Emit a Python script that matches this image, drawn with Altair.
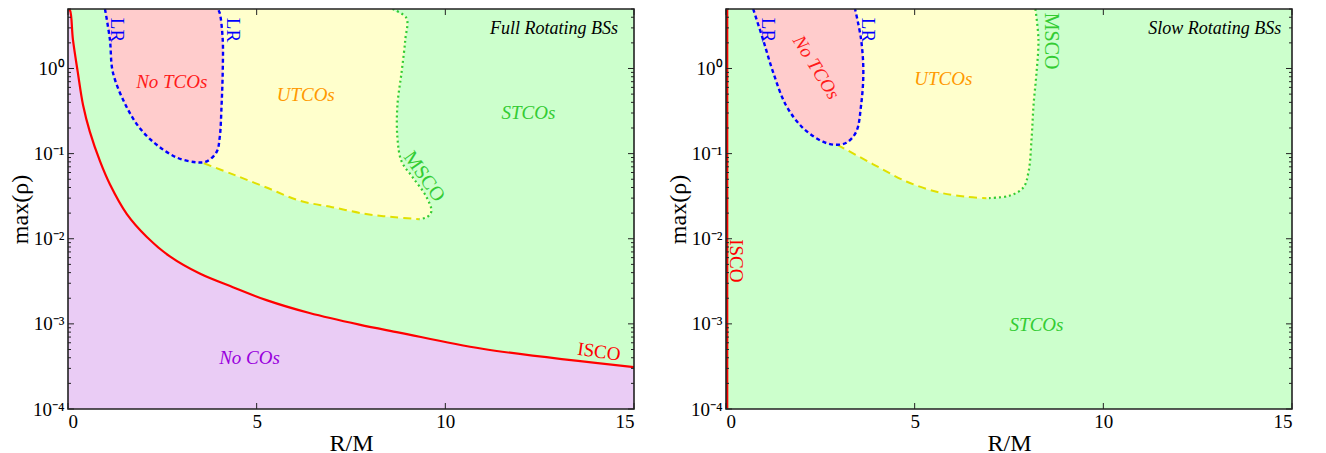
import altair as alt
import pandas as pd

# ---------------- data: left panel (Full Rotating BSs) ----------------
isco_l_x = [0.0, 0.05, 0.13, 0.26, 0.40, 0.58, 0.85, 1.11, 1.56, 2.09, 2.70, 3.49, 4.37, 5.26, 6.40, 7.72, 8.78,
            10.98, 15.0]
isco_l_y = [5.0, 4.85, 2.2, 0.9, 0.37, 0.18, 0.081, 0.0437, 0.0195, 0.0105, 0.0062, 0.0039, 0.0027, 0.0019,
            0.00134, 0.00098, 0.00079, 0.00051, 0.00031]
lr_l_x = [0.98, 1.11, 1.19, 1.53, 1.90, 2.35, 2.88, 3.41, 3.68, 3.94, 4.02, 4.07, 4.10, 4.10, 4.02, 3.97]
lr_l_y = [5.0, 2.2, 0.9, 0.37, 0.2, 0.127, 0.09, 0.079, 0.081, 0.105, 0.154, 0.37, 0.9, 2.2, 4.5, 5.0]
ut_l_x = [3.6, 4.37, 5.26, 6.14, 7.0, 7.9, 8.6, 9.31]
ut_l_y = [0.077, 0.057, 0.040, 0.028, 0.0235, 0.0195, 0.018, 0.017]
ms_l_x = [8.60, 8.97, 8.94, 8.84, 8.73, 8.73, 8.84, 9.13, 9.50, 9.63, 9.52, 9.31]
ms_l_y = [5.0, 3.9, 2.2, 0.9, 0.37, 0.154, 0.081, 0.053, 0.031, 0.021, 0.018, 0.017]

# ---------------- data: right panel (Slow Rotating BSs) ----------------
isco_r_x = [0.03, 0.03]
isco_r_y = [1e-4, 5.0]
lr_r_x = [0.72, 0.98, 1.25, 1.59, 2.04, 2.57, 2.92, 3.19, 3.45, 3.58, 3.64, 3.58, 3.42]
lr_r_y = [5.0, 2.2, 0.9, 0.37, 0.2, 0.138, 0.127, 0.134, 0.18, 0.37, 0.9, 2.2, 5.0]
ut_r_x = [2.95, 3.90, 4.78, 5.65, 6.4, 6.9]
ut_r_y = [0.127, 0.075, 0.047, 0.035, 0.031, 0.030]
ms_r_x = [8.2, 8.28, 8.23, 8.15, 8.10, 8.02, 7.88, 7.51, 6.9]
ms_r_y = [5.0, 2.2, 0.9, 0.37, 0.154, 0.062, 0.04, 0.032, 0.030]

CAP = 20.0  # closing value above the plotted range (clipped)

# ---------------- labels ----------------
it_l_text = ["No TCOs", "UTCOs", "STCOs", "No COs", "Full Rotating BSs"]
it_l_x = [2.75, 6.3, 12.2, 4.81, 12.88]
it_l_y = [0.69, 0.49, 0.30, 4.0e-4, 2.92]
it_l_col = ["#ff1a1a", "#ff9900", "#33cc33", "#9900dd", "#000000"]
it_l_ang = [0, 0, 0, 0, 0]
it_l_size = [19, 19, 19, 19, 18]

rm_l_text = ["LR", "LR", "MSCO", "ISCO"]
rm_l_x = [1.30, 4.37, 9.44, 14.07]
rm_l_y = [2.84, 2.84, 0.054, 4.7e-4]
rm_l_col = ["#0000ff", "#0000ff", "#33cc33", "#ff0000"]
rm_l_ang = [90, 90, 55, 8]
rm_l_size = [19, 19, 20, 19]

it_r_text = ["No TCOs", "UTCOs", "STCOs", "Slow Rotating BSs"]
it_r_x = [2.39, 5.76, 8.23, 12.95]
it_r_y = [1.03, 0.76, 9.8e-4, 2.92]
it_r_col = ["#ff1a1a", "#ff9900", "#33cc33", "#000000"]
it_r_ang = [58, 0, 0, 0]
it_r_size = [19, 19, 19, 18]

rm_r_text = ["LR", "LR", "MSCO", "ISCO"]
rm_r_x = [1.11, 3.77, 8.6, 0.27]
rm_r_y = [2.84, 2.84, 2.1, 0.0055]
rm_r_col = ["#0000ff", "#0000ff", "#33cc33", "#ff0000"]
rm_r_ang = [90, 90, 90, 90]
rm_r_size = [19, 19, 20, 19]

y_major = [1e-4, 1e-3, 1e-2, 1e-1, 1.0]
y_minor = [m * d for d in [1e-4, 1e-3, 1e-2, 1e-1] for m in range(2, 10)] + [2.0, 3.0, 4.0, 5.0]
x_major = [0, 5, 10, 15]

W, H = 566, 400
FONT = "Liberation Serif"
GREEN_BG = "#ccffcc"
PURPLE = "#eaccf5"
PINK = "#ffcccc"
YELLOW = "#ffffcc"

xscale = alt.Scale(domain=[0, 15], nice=False, zero=False)
yscale = alt.Scale(type="log", domain=[1e-4, 5], nice=False)

label_expr = ("datum.value >= 0.5 ? '10⁰' : datum.value >= 0.05 ? '10⁻¹' : "
              "datum.value >= 0.005 ? '10⁻²' : datum.value >= 0.0005 ? '10⁻³' : '10⁻⁴'")


def X():
    return alt.X("x:Q", scale=xscale,
                 axis=alt.Axis(values=x_major, title="R/M", format="d", labelPadding=3, titlePadding=0))


def Y():
    return alt.Y("y:Q", scale=yscale,
                 axis=alt.Axis(values=y_major, labelExpr=label_expr, title="max(ρ)", labelPadding=4,
                               titlePadding=0))


def df(xs, ys):
    return pd.DataFrame({"x": xs, "y": ys, "i": list(range(len(xs)))})


def polygon(xs, ys, color):
    return alt.Chart(df(xs, ys)).mark_line(
        fill=color, stroke=color, strokeWidth=0.8, interpolate="catmull-rom", clip=True
    ).encode(x=X(), y=Y(), order=alt.Order("i:Q"))


def curve(xs, ys, color, dash=None, width=2.2):
    kw = dict(color=color, strokeWidth=width, interpolate="catmull-rom", clip=True)
    if dash:
        kw["strokeDash"] = dash
    return alt.Chart(df(xs, ys)).mark_line(**kw).encode(x=X(), y=Y(), order=alt.Order("i:Q"))


def texts(t, xs, ys, cols, angs, sizes, style):
    d = pd.DataFrame({"x": xs, "y": ys, "t": t, "c": cols, "a": angs, "s": sizes})
    return alt.Chart(d).mark_text(font=FONT, fontStyle=style, baseline="middle", align="center").encode(
        x=X(), y=Y(), text="t:N",
        color=alt.Color("c:N", scale=None),
        angle=alt.Angle("a:Q", scale=None),
        size=alt.Size("s:Q", scale=None),
    )


def ticks():
    dmaj = pd.DataFrame({"y": y_major})
    dmin = pd.DataFrame({"y": y_minor})
    dx = pd.DataFrame({"x": x_major})
    c = "#222222"
    return [
        alt.Chart(dmaj).mark_rule(color=c, strokeWidth=1).encode(y=Y(), x=alt.value(0), x2=alt.value(6)),
        alt.Chart(dmaj).mark_rule(color=c, strokeWidth=1).encode(y=Y(), x=alt.value(W), x2=alt.value(W - 6)),
        alt.Chart(dmin).mark_rule(color=c, strokeWidth=1).encode(y=Y(), x=alt.value(0), x2=alt.value(3)),
        alt.Chart(dmin).mark_rule(color=c, strokeWidth=1).encode(y=Y(), x=alt.value(W), x2=alt.value(W - 3)),
        alt.Chart(dx).mark_rule(color=c, strokeWidth=1).encode(x=X(), y=alt.value(H), y2=alt.value(H - 6)),
        alt.Chart(dx).mark_rule(color=c, strokeWidth=1).encode(x=X(), y=alt.value(0), y2=alt.value(6)),
    ]


def frame():
    return alt.Chart(pd.DataFrame({"k": [0]})).mark_rect(
        fillOpacity=0, stroke="#222222", strokeWidth=1.6
    ).encode(x=alt.value(0), x2=alt.value(W), y=alt.value(0), y2=alt.value(H))


# ---------------- left panel ----------------
purple_area = alt.Chart(df(isco_l_x, isco_l_y)).mark_area(
    color=PURPLE, interpolate="catmull-rom", clip=True
).encode(x=X(), y=Y(), y2=alt.datum(1e-4))

yl_x = lr_l_x[8:] + [lr_l_x[-1], ms_l_x[0]] + ms_l_x + ut_l_x[::-1][1:]
yl_y = lr_l_y[8:] + [CAP, CAP] + ms_l_y + ut_l_y[::-1][1:]

left = alt.layer(
    purple_area,
    polygon(yl_x, yl_y, YELLOW),
    polygon(lr_l_x, lr_l_y, PINK),
    curve(ut_l_x, ut_l_y, "#e0e000", dash=[8, 5], width=2),
    curve(ms_l_x, ms_l_y, "#33cc33", dash=[2, 3], width=2.2),
    curve(lr_l_x, lr_l_y, "#0000ff", dash=[4, 3], width=2.4),
    curve(isco_l_x, isco_l_y, "#ff0000", width=2.2),
    texts(it_l_text, it_l_x, it_l_y, it_l_col, it_l_ang, it_l_size, "italic"),
    texts(rm_l_text, rm_l_x, rm_l_y, rm_l_col, rm_l_ang, rm_l_size, "normal"),
    *ticks(),
    frame(),
).properties(width=W, height=H)

# ---------------- right panel ----------------
yr_x = lr_r_x[6:] + [lr_r_x[-1], ms_r_x[0]] + ms_r_x + ut_r_x[::-1][1:]
yr_y = lr_r_y[6:] + [CAP, CAP] + ms_r_y + ut_r_y[::-1][1:]

right = alt.layer(
    polygon(yr_x, yr_y, YELLOW),
    polygon(lr_r_x, lr_r_y, PINK),
    curve(ut_r_x, ut_r_y, "#e0e000", dash=[8, 5], width=2),
    curve(ms_r_x, ms_r_y, "#33cc33", dash=[2, 3], width=2.2),
    curve(lr_r_x, lr_r_y, "#0000ff", dash=[4, 3], width=2.4),
    curve(isco_r_x, isco_r_y, "#ff0000", width=2.4),
    texts(it_r_text, it_r_x, it_r_y, it_r_col, it_r_ang, it_r_size, "italic"),
    texts(rm_r_text, rm_r_x, rm_r_y, rm_r_col, rm_r_ang, rm_r_size, "normal"),
    *ticks(),
    frame(),
).properties(width=W, height=H)

chart = alt.hconcat(left, right, spacing=31).properties(
    padding={"left": 0, "top": 0, "right": 0, "bottom": 0}
).configure_view(
    fill=GREEN_BG, stroke=None
).configure_axis(
    labelFont=FONT, labelFontSize=19, labelColor="#000000",
    titleFont=FONT, titleFontSize=24, titleFontWeight="normal", titleColor="#000000",
    domain=False, ticks=False, grid=False,
)

chart.save("out.html", embed_options={"renderer": "svg", "actions": False})
